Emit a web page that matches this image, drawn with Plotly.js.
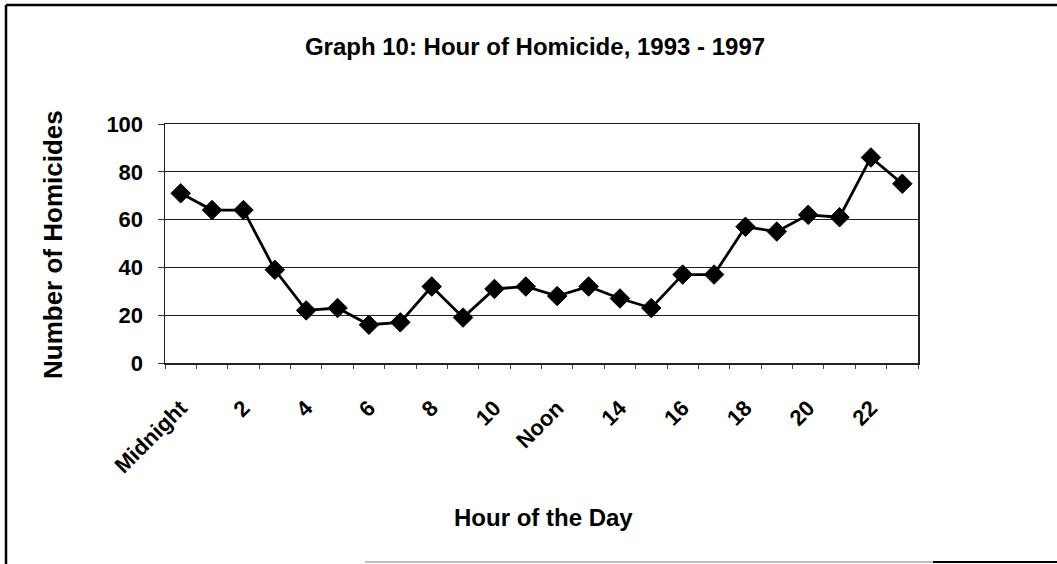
<!DOCTYPE html>
<html>
<head>
<meta charset="utf-8">
<script src="https://cdn.plot.ly/plotly-3.0.1.min.js"></script>
<style>
html,body{margin:0;padding:0;background:#fff;}
#chart{width:1057px;height:564px;}
</style>
</head>
<body>
<div id="chart"></div>
<script>
var hours = [0,1,2,3,4,5,6,7,8,9,10,11,12,13,14,15,16,17,18,19,20,21,22,23];
var homicides = [71,64,64,39,22,23,16,17,32,19,31,32,28,32,27,23,37,37,57,55,62,61,86,75];
var tickPositions = [0,2,4,6,8,10,12,14,16,18,20,22];
var tickLabels = ["Midnight","2","4","6","8","10","Noon","14","16","18","20","22"];

var W = 1057, H = 564;
var L = 165, R = 918, T = 124, B = 363;
function px(p){ return (p - L) / (R - L); }
function py(p){ return (B - p) / (B - T); }

var trace = {
  x: hours,
  y: homicides,
  type: 'scatter',
  mode: 'lines+markers',
  line: {color: '#000', width: 2.8},
  marker: {symbol: 'diamond', size: 15, color: '#000', line: {color: '#000', width: 1}},
  hoverinfo: 'x+y'
};

var fam = '"Liberation Sans", Arial, sans-serif';

var layout = {
  width: W, height: H,
  margin: {l: L, r: W - R, t: T, b: H - B, pad: 0},
  paper_bgcolor: '#fff',
  plot_bgcolor: '#fff',
  showlegend: false,
  font: {family: fam, color: '#000'},
  title: {
    text: '<b>Graph 10: Hour of Homicide, 1993 - 1997</b>',
    font: {family: fam, size: 24, color: '#000'},
    x: 535 / W, xref: 'container', xanchor: 'center', y: 1 - 47/H, yref: 'container', yanchor: 'middle'
  },
  xaxis: {
    type: 'linear',
    range: [-0.5, 23.5],
    tickmode: 'array',
    tickvals: tickPositions,
    ticktext: tickLabels.map(function(s){return '<b>' + s + '</b>';}),
    tickangle: -45,
    ticks: '',
    ticklabelstandoff: 22,
    tickfont: {family: fam, size: 22, color: '#000'},
    showgrid: false,
    zeroline: false,
    showline: true,
    linecolor: '#222',
    linewidth: 1.5,
    mirror: true,
    minor: {tickmode: 'linear', tick0: -0.5, dtick: 1, ticks: 'outside', ticklen: 4, tickcolor: '#444', showgrid: false}
  },
  yaxis: {
    range: [0, 100],
    tickmode: 'linear',
    tick0: 0,
    dtick: 20,
    ticks: 'outside',
    ticklen: 6,
    tickcolor: '#333',
    ticklabelstandoff: 10,
    tickfont: {family: fam, size: 22, color: '#000'},
    tickprefix: '<b>', ticksuffix: '</b>',
    showgrid: true,
    gridcolor: '#222',
    gridwidth: 1,
    zeroline: false,
    showline: true,
    linecolor: '#222',
    linewidth: 1.5,
    mirror: true
  },
  annotations: [
    {text: '<b>Hour of the Day</b>', xref: 'paper', yref: 'paper', x: px(543), y: py(517),
     xanchor: 'center', yanchor: 'middle', showarrow: false, font: {family: fam, size: 24, color: '#000'}},
    {text: '<b>Number of Homicides</b>', xref: 'paper', yref: 'paper', x: px(53), y: py(245),
     xanchor: 'center', yanchor: 'middle', textangle: -90, showarrow: false, font: {family: fam, size: 26, color: '#000'}}
  ],
  shapes: [
    {type: 'line', xref: 'paper', yref: 'paper', x0: px(6), x1: px(6), y0: py(5), y1: py(564), line: {color: '#000', width: 2.5}},
    {type: 'line', xref: 'paper', yref: 'paper', x0: px(6), x1: px(1057), y0: py(5), y1: py(5), line: {color: '#000', width: 2.5}},
    {type: 'line', xref: 'paper', yref: 'paper', x0: px(365), x1: px(933), y0: py(562), y1: py(562), line: {color: '#aaa', width: 1.5}},
    {type: 'line', xref: 'paper', yref: 'paper', x0: px(933), x1: px(1057), y0: py(562), y1: py(562), line: {color: '#000', width: 2}}
  ]
};

Plotly.newPlot('chart', [trace], layout, {displayModeBar: false, staticPlot: true});
</script>
</body>
</html>
